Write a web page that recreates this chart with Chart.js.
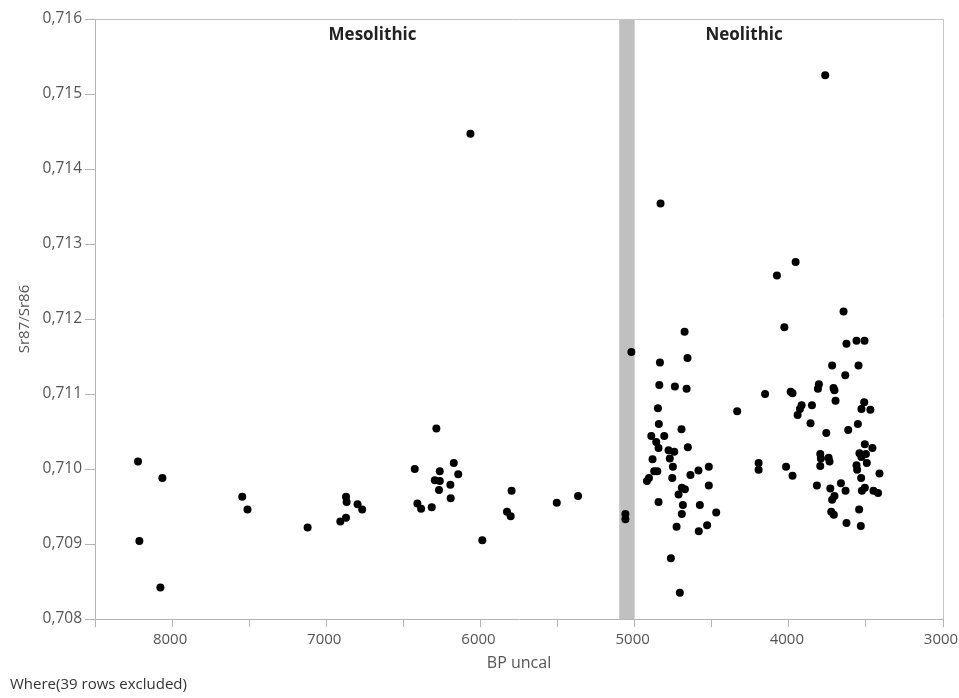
<!DOCTYPE html>
<html>
<head>
<meta charset="utf-8">
<script src="https://cdn.jsdelivr.net/npm/chart.js@4"></script>
<style>
  html, body { margin: 0; padding: 0; background: #fff; }
  #wrap { width: 959px; height: 698px; }
</style>
</head>
<body>
<div id="wrap"><canvas id="srChart" width="959" height="698"></canvas></div>
<script>
// BP uncal / Sr87/Sr86
const mesoBP = [8221, 8212, 8063, 8076, 7545, 7511, 7121, 6909, 6872, 6872, 6868, 6797, 6767,
  6426, 6409, 6385, 6316, 6286, 6296, 6264, 6264, 6269, 6195, 6193, 6173, 6144, 6065,
  5988, 5828, 5804, 5798, 5505, 5367, 5060, 5060];
const mesoSr = [0.71010, 0.70904, 0.70988, 0.70842, 0.70963, 0.70946, 0.70922, 0.70930, 0.70935, 0.70963, 0.70956, 0.70953, 0.70946,
  0.71000, 0.70954, 0.70947, 0.70949, 0.71054, 0.70985, 0.70984, 0.70997, 0.70972, 0.70979, 0.70961, 0.71008, 0.70993, 0.71447,
  0.70905, 0.70943, 0.70937, 0.70971, 0.70955, 0.70964, 0.70940, 0.70933];

const neoBP = [5021, 4920, 4907, 4892, 4884, 4873, 4860, 4853, 4849, 4845, 4845, 4843, 4840, 4836, 4832,
  4808, 4780, 4772, 4765, 4756, 4752, 4743, 4739, 4728, 4715, 4707, 4696, 4694, 4694, 4687,
  4676, 4674, 4663, 4657, 4655, 4638, 4586, 4584, 4577, 4530, 4519, 4519, 4471,
  4335, 4196, 4196, 4154, 4077, 4029, 4018, 3988, 3976, 3976, 3956, 3943, 3928, 3917,
  3859, 3850, 3818, 3811, 3805, 3796, 3792, 3796, 3764, 3757, 3742, 3736, 3731, 3725,
  3719, 3719, 3710, 3708, 3704, 3704, 3697, 3662, 3645, 3634, 3632, 3626, 3626, 3615,
  3561, 3561, 3557, 3552, 3548, 3544, 3542, 3533, 3531, 3529, 3529, 3526, 3511, 3509,
  3507, 3507, 3500, 3494, 3471, 3458, 3451, 3421, 3412];
const neoSr = [0.71156, 0.70984, 0.70988, 0.71044, 0.71013, 0.70997, 0.71036, 0.70997, 0.71081, 0.71028, 0.70956, 0.71060, 0.71112, 0.71142, 0.71354,
  0.71044, 0.71025, 0.71014, 0.70881, 0.70988, 0.71003, 0.71023, 0.71110, 0.70923, 0.70966, 0.70835, 0.71053, 0.70975, 0.70940, 0.70952,
  0.71183, 0.70973, 0.71107, 0.71148, 0.71029, 0.70992, 0.70998, 0.70917, 0.70952, 0.70925, 0.71003, 0.70978, 0.70942,
  0.71077, 0.71008, 0.70999, 0.71100, 0.71258, 0.71189, 0.71003, 0.71103, 0.71101, 0.70991, 0.71276, 0.71072, 0.71080, 0.71085,
  0.71061, 0.71085, 0.70978, 0.71107, 0.71113, 0.71020, 0.71014, 0.71004, 0.71525, 0.71048, 0.71015, 0.71010, 0.70974, 0.70943,
  0.71138, 0.70959, 0.71108, 0.70939, 0.71105, 0.70964, 0.71091, 0.70981, 0.71210, 0.71125, 0.70971, 0.71167, 0.70928, 0.71052,
  0.71171, 0.71005, 0.70999, 0.71060, 0.71138, 0.70946, 0.71021, 0.70924, 0.70988, 0.71080, 0.71016, 0.70971, 0.71089, 0.71171,
  0.71033, 0.70975, 0.71020, 0.71008, 0.71079, 0.71028, 0.70971, 0.70968, 0.70994];

const boundaryBand = [5100, 5000];
const periodLabels = ['Mesolithic', 'Neolithic'];
const periodLabelBP = [6700, 4290];

const toPoints = (xs, ys) => xs.map((x, i) => ({ x: x, y: ys[i] }));

const GREY = '#b4b4b4';
const TEXT = '#555555';

// grey boundary band, frame and period labels
const decorations = {
  id: 'decorations',
  beforeDatasetsDraw(chart) {
    const { ctx, chartArea, scales } = chart;
    const x1 = scales.x.getPixelForValue(boundaryBand[0]);
    const x2 = scales.x.getPixelForValue(boundaryBand[1]);
    ctx.save();
    ctx.fillStyle = '#c0c0c0';
    ctx.fillRect(x1, chartArea.top, x2 - x1, chartArea.bottom - chartArea.top);
    ctx.strokeStyle = '#c4c4c4';
    ctx.lineWidth = 1;
    ctx.beginPath();
    ctx.moveTo(chartArea.left, chartArea.top + 0.5);
    ctx.lineTo(chartArea.right + 0.5, chartArea.top + 0.5);
    ctx.lineTo(chartArea.right + 0.5, chartArea.bottom);
    ctx.stroke();
    ctx.fillStyle = '#222';
    ctx.font = 'bold 17px "Open Sans"';
    ctx.textAlign = 'center';
    ctx.textBaseline = 'middle';
    periodLabels.forEach((t, i) => {
      ctx.fillText(t, scales.x.getPixelForValue(periodLabelBP[i]), scales.y.getPixelForValue(0.71578));
    });
    ctx.restore();
  }
};

new Chart(document.getElementById('srChart').getContext('2d'), {
  type: 'scatter',
  data: {
    datasets: [
      { label: 'Mesolithic', data: toPoints(mesoBP, mesoSr), backgroundColor: '#000', borderWidth: 0, pointRadius: 4 },
      { label: 'Neolithic', data: toPoints(neoBP, neoSr), backgroundColor: '#000', borderWidth: 0, pointRadius: 4 },
    ],
  },
  options: {
    responsive: false,
    animation: false,
    layout: { padding: { left: 10, right: 16, top: 19, bottom: 0 } },
    plugins: {
      legend: { display: false },
      tooltip: { enabled: false },
      subtitle: {
        display: true,
        text: 'Where(39 rows excluded)',
        position: 'bottom',
        align: 'start',
        color: '#333',
        font: { family: '"Open Sans"', size: 15, weight: 'normal' },
        padding: { top: 0, bottom: 4 },
      },
    },
    scales: {
      x: {
        type: 'linear',
        reverse: true,
        min: 3000,
        max: 8500,
        afterFit(scale) {
          scale.height = 57;
          scale.paddingLeft = 0;
          scale.paddingRight = 0;
        },
        ticks: {
          stepSize: 500,
          color: TEXT,
          padding: 4,
          labelOffset: -2,
          maxRotation: 0,
          font: { family: '"Open Sans"', size: 15 },
          callback: (v) => (v % 1000 === 0 ? String(v) : ''),
        },
        grid: { drawOnChartArea: false, drawTicks: true, tickLength: 8, color: GREY },
        border: { color: GREY },
        title: {
          display: true,
          text: 'BP uncal',
          color: TEXT,
          font: { family: '"Open Sans"', size: 16 },
          padding: { top: 4, bottom: 3 },
        },
      },
      y: {
        min: 0.708,
        max: 0.716,
        afterFit(scale) {
          scale.width = 85;
          scale.paddingTop = 0;
          scale.paddingBottom = 0;
        },
        ticks: {
          stepSize: 0.001,
          color: TEXT,
          padding: 3,
          font: { family: '"Open Sans"', size: 15.5 },
          callback: (v) => v.toFixed(3).replace('.', ','),
        },
        grid: { drawOnChartArea: false, drawTicks: true, tickLength: 10, color: GREY },
        border: { color: GREY },
        title: {
          display: true,
          text: 'Sr87/Sr86',
          color: TEXT,
          font: { family: '"Open Sans"', size: 15 },
          padding: { top: 6, bottom: 0 },
        },
      },
    },
  },
  plugins: [decorations],
});
</script>
</body>
</html>
